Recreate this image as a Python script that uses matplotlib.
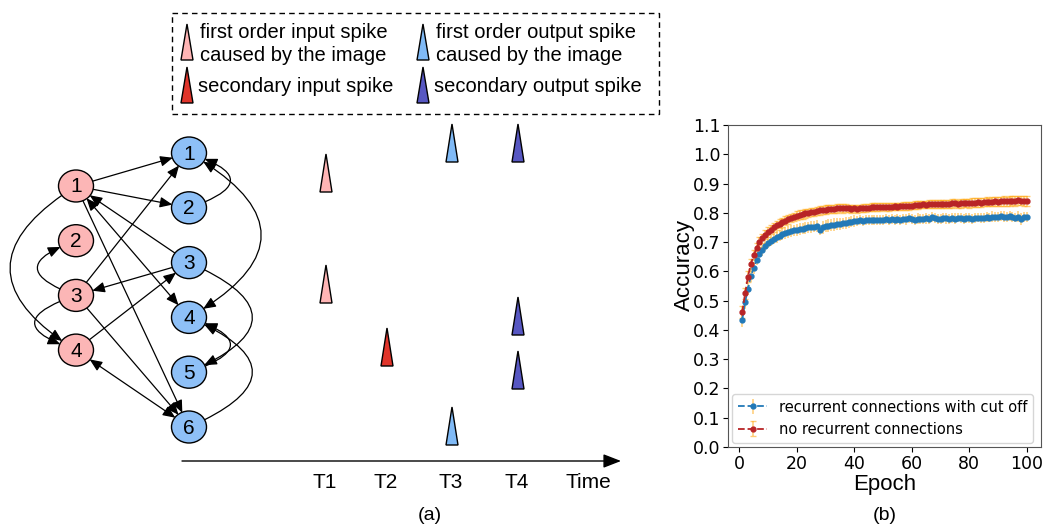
import matplotlib
matplotlib.use("Agg")
import matplotlib.pyplot as plt
from matplotlib.patches import Ellipse, FancyArrowPatch, Rectangle, Polygon
import numpy as np

# ---------------- data ----------------
epochs = list(range(1, 101))
acc_cutoff = [0.435, 0.495, 0.540, 0.585, 0.612, 0.640, 0.658, 0.673, 0.688, 0.698,
              0.705, 0.712, 0.718, 0.722, 0.727, 0.731, 0.734, 0.737, 0.740, 0.742,
              0.744, 0.746, 0.748, 0.750, 0.751, 0.753, 0.755, 0.742, 0.750, 0.754,
              0.756, 0.758, 0.759, 0.761, 0.762, 0.764, 0.765, 0.767, 0.769, 0.771,
              0.773, 0.775, 0.773, 0.776, 0.777, 0.775, 0.777, 0.776, 0.775, 0.777,
              0.778, 0.776, 0.779, 0.777, 0.779, 0.777, 0.780, 0.778, 0.781, 0.779,
              0.777, 0.780, 0.778, 0.779, 0.781, 0.780, 0.786, 0.782, 0.779, 0.780,
              0.783, 0.781, 0.779, 0.782, 0.780, 0.784, 0.782, 0.779, 0.783, 0.781,
              0.780, 0.782, 0.784, 0.781, 0.783, 0.786, 0.784, 0.787, 0.785, 0.786,
              0.789, 0.787, 0.785, 0.788, 0.786, 0.784, 0.787, 0.779, 0.786, 0.785]
err_cutoff = [0.024, 0.022, 0.021, 0.020, 0.020, 0.019, 0.019, 0.019, 0.018, 0.018,
              0.018, 0.019, 0.020, 0.019, 0.020, 0.021, 0.020, 0.021, 0.020, 0.021,
              0.021, 0.020, 0.021, 0.020, 0.021, 0.020, 0.021, 0.018, 0.022, 0.021,
              0.022, 0.021, 0.022, 0.021, 0.022, 0.020, 0.021, 0.020, 0.019, 0.020,
              0.017, 0.018, 0.017, 0.018, 0.017, 0.018, 0.017, 0.017, 0.018, 0.017,
              0.017, 0.018, 0.017, 0.017, 0.018, 0.017, 0.017, 0.018, 0.017, 0.017,
              0.017, 0.018, 0.017, 0.017, 0.018, 0.017, 0.017, 0.018, 0.017, 0.017,
              0.017, 0.018, 0.017, 0.017, 0.018, 0.017, 0.017, 0.018, 0.017, 0.017,
              0.017, 0.018, 0.017, 0.017, 0.018, 0.017, 0.017, 0.018, 0.017, 0.017,
              0.017, 0.018, 0.017, 0.017, 0.018, 0.017, 0.019, 0.020, 0.017, 0.017]
acc_norec = [0.460, 0.525, 0.582, 0.625, 0.655, 0.680, 0.700, 0.713, 0.725, 0.735,
             0.743, 0.750, 0.757, 0.763, 0.768, 0.773, 0.778, 0.782, 0.786, 0.790,
             0.793, 0.795, 0.798, 0.800, 0.802, 0.804, 0.806, 0.808, 0.810, 0.811,
             0.812, 0.813, 0.814, 0.815, 0.816, 0.815, 0.816, 0.815, 0.814, 0.815,
             0.814, 0.815, 0.816, 0.817, 0.818, 0.819, 0.820, 0.819, 0.820, 0.821,
             0.820, 0.819, 0.821, 0.822, 0.821, 0.822, 0.823, 0.824, 0.823, 0.825,
             0.826, 0.827, 0.828, 0.829, 0.828, 0.830, 0.831, 0.830, 0.831, 0.830,
             0.829, 0.831, 0.830, 0.832, 0.833, 0.831, 0.832, 0.834, 0.833, 0.832,
             0.834, 0.835, 0.836, 0.835, 0.837, 0.838, 0.837, 0.838, 0.839, 0.838,
             0.839, 0.840, 0.839, 0.840, 0.842, 0.841, 0.843, 0.842, 0.840, 0.841]
err_norec = [0.020, 0.019, 0.018, 0.018, 0.017, 0.017, 0.016, 0.016, 0.016, 0.016,
             0.016, 0.016, 0.016, 0.015, 0.015, 0.015, 0.015, 0.015, 0.015, 0.015,
             0.015, 0.015, 0.015, 0.014, 0.014, 0.014, 0.014, 0.014, 0.014, 0.014,
             0.014, 0.014, 0.014, 0.014, 0.014, 0.014, 0.013, 0.013, 0.013, 0.013,
             0.013, 0.013, 0.013, 0.013, 0.013, 0.013, 0.013, 0.013, 0.013, 0.013,
             0.013, 0.013, 0.013, 0.013, 0.013, 0.013, 0.013, 0.013, 0.013, 0.013,
             0.013, 0.013, 0.013, 0.013, 0.013, 0.013, 0.013, 0.013, 0.013, 0.013,
             0.014, 0.014, 0.014, 0.014, 0.014, 0.014, 0.014, 0.014, 0.014, 0.014,
             0.015, 0.015, 0.015, 0.015, 0.015, 0.015, 0.015, 0.015, 0.015, 0.015,
             0.016, 0.016, 0.016, 0.016, 0.016, 0.016, 0.016, 0.016, 0.016, 0.016]
series_labels = ["recurrent connections with cut off", "no recurrent connections"]
yticks = [0.0, 0.1, 0.2, 0.3, 0.4, 0.5, 0.6, 0.7, 0.8, 0.9, 1.0, 1.1]
xticks = [0, 20, 40, 60, 80, 100]

# diagram data
input_nodes = ["1", "2", "3", "4"]
output_nodes = ["1", "2", "3", "4", "5", "6"]
# edges: (from, to, style, rad)
edges = [
    ("I1", "O1", "-|>", 0.0), ("I1", "O2", "-|>", 0.0), ("I1", "O6", "-|>", 0.0),
    ("I1", "O4", "<|-|>", 0.0), ("O3", "I1", "-|>", 0.0),
    ("I3", "O1", "-|>", 0.0), ("O3", "I3", "-|>", 0.0), ("I4", "O3", "-|>", 0.0),
    ("I3", "O6", "-|>", 0.0), ("I4", "O6", "<|-|>", 0.0),
    ("I1", "I4", "-|>", 0.8), ("I3", "I2", "-|>", -1.4), ("I3", "I4", "-|>", 1.5),
    ("O2", "O1", "-|>", 1.5), ("O1", "O4", "<|-|>", -0.87), ("O3", "O5", "-|>", -1.15),
    ("O5", "O4", "-|>", 1.5), ("O6", "O4", "-|>", 1.15),
]
time_labels = ["T1", "T2", "T3", "T4", "Time"]
# spikes: (time index, kind, row)
spikes = [(0, "in1", "I1"), (0, "in1", "I3"), (1, "in2", "I4"),
          (2, "out1", "O1"), (2, "out1", "O6"),
          (3, "out2", "O1"), (3, "out2", "O4"), (3, "out2", "O5")]
legend_entries = [("in1", "first order input spike\ncaused by the image"),
                  ("in2", "secondary input spike"),
                  ("out1", "first order output spike\ncaused by the image"),
                  ("out2", "secondary output spike")]

# ---------------- layout / style ----------------
W, H = 1043, 529
fig = plt.figure(figsize=(W / 100, H / 100), dpi=100)
ax0 = fig.add_axes([0, 0, 1, 1])
ax0.set_xlim(0, W)
ax0.set_ylim(H, 0)
ax0.axis("off")
FONT = "Liberation Sans"

spike_colors = {"in1": "#ffb5b5", "in2": "#e0352b", "out1": "#80baf6", "out2": "#5757c2"}
node_pos = {}
for i, n in enumerate(input_nodes):
    node_pos["I" + n] = (76, 186 + i * 54.7)
for i, n in enumerate(output_nodes):
    node_pos["O" + n] = (189, 153 + i * 54.8)

patches = {}
for key, (x, y) in node_pos.items():
    fc = "#fcb6b6" if key[0] == "I" else "#8ec0f7"
    e = Ellipse((x, y), 35, 32, facecolor=fc, edgecolor="black", lw=1.0, zorder=5)
    ax0.add_patch(e)
    patches[key] = e
    ax0.text(x, y + 1, key[1:], ha="center", va="center", fontsize=15,
             family=FONT, zorder=6)

for a, b, style, rad in edges:
    arr = FancyArrowPatch(node_pos[a], node_pos[b], patchA=patches[a], patchB=patches[b],
                          shrinkA=0, shrinkB=0,
                          arrowstyle=style + ",head_length=0.75,head_width=0.32",
                          connectionstyle=f"arc3,rad={rad}", mutation_scale=10,
                          lw=0.9, color="black", zorder=3)
    ax0.add_patch(arr)

# time axis
ax0.add_patch(FancyArrowPatch((182, 461), (621, 461), arrowstyle="-|>,head_length=0.9,head_width=0.35",
                              mutation_scale=12, lw=1.0, color="black", shrinkA=0, shrinkB=0))
time_x = [325, 386, 451, 517, 588]
for tx, lab in zip(time_x, time_labels):
    ax0.text(tx, 483, lab, ha="center", va="center", fontsize=15, family=FONT)

spike_base = {"I1": 192, "I3": 303, "I4": 366, "O1": 162, "O6": 445, "O4": 335, "O5": 389}


def tri(x, base, h, w, color):
    ax0.add_patch(Polygon([(x - w / 2, base), (x + w / 2, base), (x, base - h)], closed=True,
                          facecolor=color, edgecolor="black", lw=1.0, zorder=4))


for ti, kind, row in spikes:
    tri(time_x[ti] + 1, spike_base[row], 38, 12, spike_colors[kind])

# dashed legend box
ax0.add_patch(Rectangle((172, 13), 487, 101, fill=False, edgecolor="black", lw=1.0,
                        linestyle=(0, (4, 3))))
leg_pos = {"in1": (187, 60, 200, 44), "in2": (187, 103, 198, 86),
           "out1": (423, 60, 436, 44), "out2": (423, 103, 434, 86)}
for kind, text in legend_entries:
    tx, base, lx, ly = leg_pos[kind]
    tri(tx, base, 36, 12, spike_colors[kind])
    ax0.text(lx, ly, text, ha="left", va="center", fontsize=14.5, family=FONT, linespacing=1.3)

ax0.text(430, 515, "(a)", ha="center", va="center", fontsize=14, family=FONT)
ax0.text(885, 515, "(b)", ha="center", va="center", fontsize=14, family=FONT)

# ---------------- chart ----------------
ax = fig.add_axes([728 / W, 1 - 447 / H, 313 / W, 322 / H])
ecol = (1.0, 0.67, 0.1, 0.6)
ax.errorbar(epochs, acc_cutoff, yerr=err_cutoff, fmt="--o", color="#2279b8", ms=3.5,
            lw=1.3, ecolor=ecol, elinewidth=1.1, capsize=0, label=series_labels[0])
ax.errorbar(epochs, acc_norec, yerr=err_norec, fmt="--o", color="#b82426", ms=3.5,
            lw=1.3, ecolor=ecol, elinewidth=1.1, capsize=2.5, label=series_labels[1])
ax.set_ylim(0, 1.1)
ax.set_yticks(yticks)
ax.set_xticks(xticks)
ax.tick_params(labelsize=12.5, pad=2)
ax.set_xlabel("Epoch", fontsize=16, family=FONT, labelpad=1)
ax.set_ylabel("Accuracy", fontsize=16, family=FONT)
ax.yaxis.set_label_coords(-0.105, 0.565)
ax.legend(loc="lower left", fontsize=10.5, borderaxespad=0.3)
for s in ax.spines.values():
    s.set_color("#555555")

fig.savefig("out.png", dpi=100)
